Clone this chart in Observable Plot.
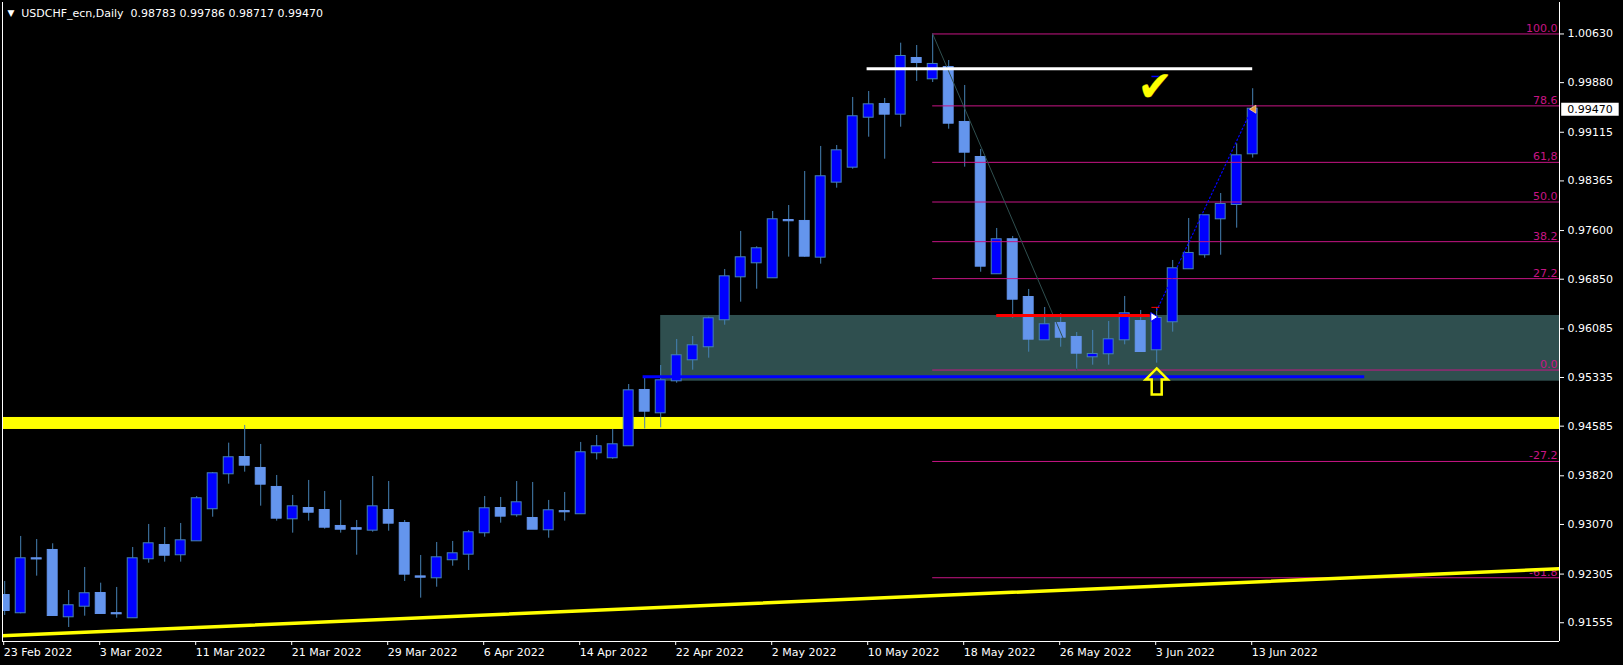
<!DOCTYPE html>
<html><head><meta charset="utf-8">
<script src="https://cdn.jsdelivr.net/npm/d3@7"></script>
<script src="https://cdn.jsdelivr.net/npm/@observablehq/plot@0.6"></script>
<style>html,body{margin:0;padding:0;background:#000;overflow:hidden}</style>
</head><body><div id="chart"></div>
<script>
const symbolName = "USDCHF_ecn", timeframe = "Daily";
const opens = [0.91975,0.91709,0.92541,0.92669,0.91647,0.91810,0.92006,0.91695,0.91632,0.92541,
0.92746,0.92603,0.92818,0.93312,0.93851,0.94102,0.93933,0.93640,0.93157,0.93316,
0.93285,0.93039,0.93005,0.92982,0.93285,0.93085,0.92262,0.92248,0.92526,0.92612,
0.92942,0.93316,0.93219,0.93162,0.92988,0.93268,0.93235,0.94175,0.94098,0.94283,
0.95135,0.94791,0.95284,0.95608,0.95809,0.96225,0.96887,0.97103,0.96872,0.97755,
0.97740,0.97190,0.98346,0.98577,0.99347,0.99543,0.99394,1.00252,0.99939,1.00113,
0.99266,0.98726,0.96934,0.97458,0.96568,0.95916,0.96168,0.95952,0.95654,0.95701,
0.95916,0.96198,0.95762,0.96194,0.97011,0.97227,0.97781,0.98002,0.98783];
const highs = [0.92191,0.92885,0.92838,0.92772,0.92052,0.92407,0.92165,0.92099,0.92715,0.93070,
0.93023,0.93085,0.93501,0.93871,0.94323,0.94596,0.94303,0.93825,0.93517,0.93748,
0.93578,0.93440,0.93131,0.93809,0.93732,0.93131,0.92592,0.92792,0.92808,0.92977,
0.93501,0.93486,0.93732,0.93717,0.93440,0.93563,0.94334,0.94441,0.94534,0.95227,
0.95343,0.95520,0.95921,0.95967,0.96265,0.97000,0.97586,0.97350,0.97894,0.97986,
0.98510,0.98896,0.98911,0.99651,0.99743,0.99636,1.00488,1.00452,1.00630,1.00221,
0.99836,0.98850,0.97632,0.97509,0.96692,0.96414,0.96317,0.96029,0.96060,0.96198,
0.96584,0.96368,0.96410,0.97139,0.97786,0.97830,0.98171,0.98937,0.99786];
const lows = [0.91667,0.91693,0.92273,0.91652,0.91482,0.91656,0.91687,0.91625,0.91630,0.92473,
0.92489,0.92489,0.92815,0.93182,0.93691,0.93876,0.93352,0.93121,0.92936,0.93121,
0.92997,0.92936,0.92596,0.92951,0.92966,0.92191,0.91934,0.92103,0.92427,0.92361,
0.92874,0.93090,0.93182,0.92995,0.92858,0.93121,0.93232,0.94064,0.94076,0.94280,
0.94542,0.94560,0.95247,0.95448,0.95633,0.96141,0.96496,0.96696,0.96869,0.97190,
0.97190,0.97082,0.98253,0.98546,0.99039,0.98700,0.99193,0.99898,0.99882,0.99162,
0.98577,0.96958,0.96930,0.96249,0.95725,0.95913,0.95802,0.95455,0.95525,0.95525,
0.95839,0.95733,0.95556,0.96034,0.97008,0.97174,0.97220,0.97637,0.98717];
const closes = [0.91744,0.92541,0.92538,0.91667,0.91817,0.92002,0.91698,0.91693,0.92541,0.92772,
0.92596,0.92818,0.93466,0.93851,0.94098,0.93984,0.93691,0.93167,0.93342,0.93259,
0.93028,0.92997,0.92997,0.93342,0.93090,0.92304,0.92257,0.92556,0.92618,0.92942,
0.93312,0.93198,0.93404,0.92997,0.93281,0.93265,0.94175,0.94267,0.94298,0.95130,
0.94816,0.95284,0.95670,0.95824,0.96240,0.96887,0.97180,0.97319,0.97766,0.97751,
0.97205,0.98429,0.98829,0.99354,0.99538,0.99394,1.00283,1.00190,1.00160,0.99255,
0.98808,0.97051,0.97458,0.96542,0.95926,0.96148,0.95956,0.95710,0.95690,0.95916,
0.96317,0.95736,0.96245,0.97011,0.97247,0.97828,0.98002,0.98752,0.99470];

const tickIdx = [0,6,12,18,24,30,36,42,48,54,60,66,72,78];
const tickLabels = ["23 Feb 2022","3 Mar 2022","11 Mar 2022","21 Mar 2022","29 Mar 2022","6 Apr 2022","14 Apr 2022","22 Apr 2022","2 May 2022","10 May 2022","18 May 2022","26 May 2022","3 Jun 2022","13 Jun 2022"];
const priceTicks = [1.00630,0.99880,0.99115,0.98365,0.97600,0.96850,0.96085,0.95335,0.94585,0.93820,0.93070,0.92305,0.91555];

const fibLevels = [100,78.6,61.8,50,38.2,27.2,0,-27.2,-61.8];
const fibLabels = ["100.0","78.6","61,8","50.0","38.2","27.2","0.0","-27.2","-61.8"];
const fibHigh = 1.00630, fibLow = 0.95450, fibStart = 58, fibEnd = 67;

const zone = {x1: 41, y1: 0.95278, y2: 0.96291};
const yellowBand = {y1: 0.94534, y2: 0.94719};
const trendX = [-1, 98], trendY = [0.91345, 0.92395];
const whiteLine = {x1: 53.9, x2: 78, y: 1.00094};
const blueLine = {x1: 39.9, x2: 85, y: 0.95346};
const redLine = {x1: 62, x2: 71.6, y: 0.96289};
const dotLineX = [72, 77.7], dotLineY = [0.96368, 0.99347];
const checkMark = {x: 71.9, y: 0.99800};
const upArrowPos = {x: 72, y: 0.95274};

const xDomain = [-0.1375, 97.175], yDomain = [0.91266, 1.01115];

const candles = opens.map((o, i) => ({i, o, h: highs[i], l: lows[i], c: closes[i]}));
const bulls = candles.filter(d => d.c > d.o), bears = candles.filter(d => d.c <= d.o);
const W = 0.31;
const fibs = fibLevels.map((lv, k) => ({lv, label: fibLabels[k], p: fibLow + (fibHigh - fibLow) * lv / 100}));
const fmt = d3.format(".5f");
const last = candles[candles.length - 1];
const header = `${symbolName},${timeframe}\u00a0\u00a0${[last.o, last.h, last.l, last.c].map(fmt).join(" ")}`;

const upArrow = {draw(ctx, size) {
  const k = Math.sqrt(size / Math.PI) / 13;
  ctx.moveTo(0, -13 * k); ctx.lineTo(11 * k, -2 * k); ctx.lineTo(5 * k, -2 * k); ctx.lineTo(5 * k, 13 * k);
  ctx.lineTo(-5 * k, 13 * k); ctx.lineTo(-5 * k, -2 * k); ctx.lineTo(-11 * k, -2 * k); ctx.closePath();
}};
const triRight = {draw(ctx, size) { const r = Math.sqrt(size / Math.PI);
  ctx.moveTo(r, 0); ctx.lineTo(-r * 0.6, -r); ctx.lineTo(-r * 0.6, r); ctx.closePath(); }};
const triLeft = {draw(ctx, size) { const r = Math.sqrt(size / Math.PI);
  ctx.moveTo(-r, 0); ctx.lineTo(r * 0.6, -r); ctx.lineTo(r * 0.6, r); ctx.closePath(); }};

const svg = Plot.plot({
  width: 1623, height: 665, marginLeft: 2, marginRight: 64, marginTop: 2, marginBottom: 24,
  x: {type: "linear", domain: xDomain, axis: null},
  y: {type: "linear", domain: yDomain, axis: null},
  style: {background: "#000", color: "#fff", fontFamily: "'DejaVu Sans', sans-serif", fontSize: "11px", overflow: "visible"},
  marks: [
    Plot.rect([zone], {x1: "x1", x2: () => xDomain[1], y1: "y1", y2: "y2", fill: "#2F4F4F"}),
    Plot.rect([yellowBand], {x1: () => xDomain[0], x2: () => xDomain[1], y1: "y1", y2: "y2", fill: "#FFFF00"}),
    Plot.ruleX(candles, {x: "i", y1: "l", y2: "h", stroke: "#4682B4", strokeWidth: 1, clip: true}),
    Plot.rect(bulls, {x1: d => d.i - W, x2: d => d.i + W, y1: "o", y2: "c", fill: "#0000FF", stroke: "#4682B4", strokeWidth: 1, insetTop: -0.5, insetBottom: -0.5, clip: true}),
    Plot.rect(bears, {x1: d => d.i - W, x2: d => d.i + W, y1: "c", y2: "o", fill: "#6495ED", stroke: "#6495ED", strokeWidth: 1, insetTop: -0.5, insetBottom: -0.5, clip: true}),
    Plot.ruleY(fibs, {y: "p", x1: () => fibStart, x2: () => xDomain[1], stroke: "#C71585", strokeWidth: 1}),
    Plot.text(fibs, {x: () => xDomain[1], y: "p", text: "label", textAnchor: "end", lineAnchor: "bottom", dx: -2, dy: -2, fill: "#C71585", fontSize: 11}),
    Plot.line([{x: fibStart, y: fibHigh}, {x: fibEnd, y: fibLow}], {x: "x", y: "y", stroke: "#2F4F4F", strokeWidth: 1}),
    Plot.line(trendX.map((x, k) => ({x, y: trendY[k]})), {x: "x", y: "y", stroke: "#FFFF00", strokeWidth: 3.5, clip: true}),
    Plot.ruleY([whiteLine], {y: "y", x1: "x1", x2: "x2", stroke: "#FFFFFF", strokeWidth: 3}),
    Plot.ruleY([blueLine], {y: "y", x1: "x1", x2: "x2", stroke: "#0000FF", strokeWidth: 3}),
    Plot.ruleY([redLine], {y: "y", x1: "x1", x2: "x2", stroke: "#FF0000", strokeWidth: 3}),
    Plot.line(dotLineX.map((x, k) => ({x, y: dotLineY[k]})), {x: "x", y: "y", stroke: "#0000FF", strokeWidth: 1.2, strokeDasharray: "1.5,2.5"}),
    Plot.ruleY([{x1: 71.7, x2: 72.2, y: 0.96416}], {y: "y", x1: "x1", x2: "x2", stroke: "#FF0000", strokeWidth: 1}),
    Plot.dot([{x: 71.8, y: 0.96268}], {x: "x", y: "y", symbol: triRight, r: 4.5, fill: "#FFFFFF", stroke: "#0000FF", strokeWidth: 1}),
    Plot.dot([{x: 78.05, y: last.c}], {x: "x", y: "y", symbol: triLeft, r: 4, fill: "#E39A3B", stroke: "#FFE0B0", strokeWidth: 0.7}),
    Plot.ruleY([{x1: 71.7, x2: 72.2, y: 0.99975}], {y: "y", x1: "x1", x2: "x2", stroke: "#0000FF", strokeWidth: 1.5}),
    Plot.text([checkMark], {x: "x", y: "y", text: () => "\u2714", fill: "#FFFF00", stroke: "#6B5B00", strokeWidth: 0.8, fontSize: 42}),
    Plot.dot([upArrowPos], {x: "x", y: "y", symbol: upArrow, r: 13, stroke: "#FFFF00", strokeWidth: 2.5, fill: "none"}),
    Plot.ruleX([xDomain[0], xDomain[1]], {stroke: "#FFFFFF"}),
    Plot.ruleY([yDomain[0]], {stroke: "#FFFFFF"}),
    Plot.axisY(priceTicks, {anchor: "right", tickSize: 4, tickPadding: 4, tickFormat: fmt, fontSize: 11}),
    Plot.axisX(tickIdx, {anchor: "bottom", tickSize: 4, tickPadding: 3, tickFormat: i => tickLabels[tickIdx.indexOf(i)], textAnchor: "start", dx: -1, fontSize: 11}),
    Plot.text([header], {frameAnchor: "top-left", dx: 18.7, dy: 11, lineAnchor: "middle", textAnchor: "start", fill: "#FFFFFF", fontSize: 11}),
    Plot.text(["\u25BC"], {frameAnchor: "top-left", dx: 8.5, dy: 10.5, lineAnchor: "middle", textAnchor: "middle", fill: "#FFFFFF", fontSize: 9}),
    Plot.text([last.c], {x: () => xDomain[1], y: d => d, text: d => fmt(d), dx: 7.7, textAnchor: "start", fill: "#000000", fontSize: 11})
  ]
});
document.getElementById("chart").appendChild(svg);
// white box behind the current price label
d3.select(svg).selectAll("text").filter(function() { return this.textContent === fmt(last.c) && this.getAttribute("fill") === "#000000" || (this.textContent === fmt(last.c) && this.parentNode.getAttribute("fill") === "#000000"); }).each(function() {
  const b = this.getBBox();
  const ns = "http://www.w3.org/2000/svg";
  const r = document.createElementNS(ns, "rect");
  r.setAttribute("x", b.x - 6); r.setAttribute("y", b.y);
  r.setAttribute("width", b.width + 12); r.setAttribute("height", b.height);
  r.setAttribute("fill", "#FFFFFF");
  const tr = this.getAttribute("transform");
  if (tr) r.setAttribute("transform", tr);
  this.parentNode.insertBefore(r, this);
});
</script></body></html>
